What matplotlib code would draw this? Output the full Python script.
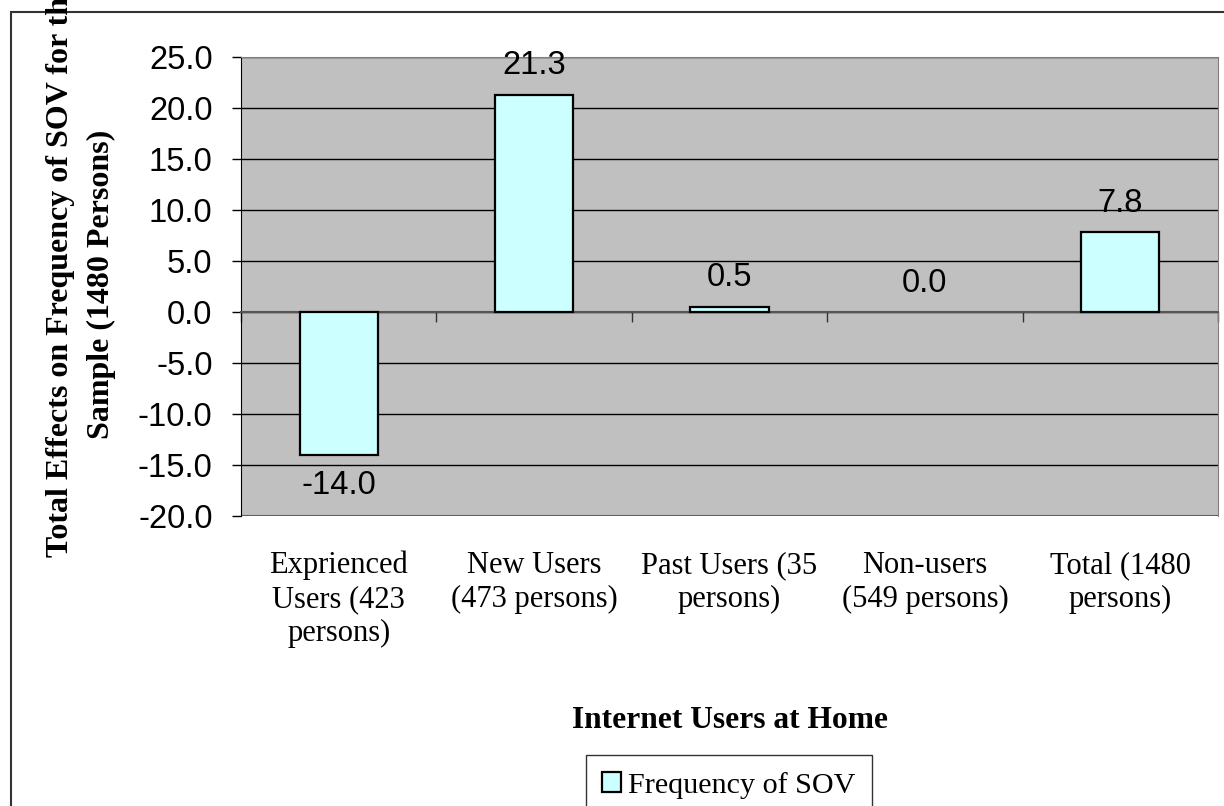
import numpy as np
from matplotlib import pyplot as plt
from matplotlib.patches import Rectangle
import matplotlib.transforms as mtransforms

categories = ["Exprienced\nUsers (423\npersons)",
              "New Users\n(473 persons)",
              "Past Users (35\npersons)",
              "Non-users\n(549 persons)",
              "Total (1480\npersons)"]
sov_effect = [-14.0, 21.3, 0.5, 0.0, 7.8]
yticks = [-20, -15, -10, -5, 0, 5, 10, 15, 20, 25]

SERIF = "Liberation Serif"
SANS = "Liberation Sans"

fig = plt.figure(figsize=(12.24, 8.06), dpi=100)
ax = fig.add_axes([241/1224, 1-516/806, 977/1224, 459/806])

x = np.arange(len(categories))
ax.set_xlim(-0.5, len(categories) - 0.5)
ax.set_ylim(-20, 25)

# plot area
ax.set_facecolor("#C0C0C0")
ax.yaxis.grid(True, color="black", lw=1.0)
ax.set_axisbelow(True)

bars = ax.bar(x, sov_effect, width=0.4, color="#CCFFFF", edgecolor="black",
              lw=1.6, label="Frequency of SOV", zorder=3)
for b, v in zip(bars, sov_effect):
    if v == 0:
        b.set_linewidth(0)

for xi, v in zip(x, sov_effect):
    off = -31 if v < 0 else 29
    ax.annotate("%.1f" % v, (xi, v), xytext=(0, off * 0.72), textcoords="offset points",
                ha="center", va="center", fontsize=23.5, family=SANS, zorder=4)

# category axis crosses at zero, ticks between categories
for s in ["top", "right"]:
    ax.spines[s].set_color("#808080")
ax.spines["left"].set_color("black")
ax.spines["bottom"].set_position(("data", 0))
ax.spines["bottom"].set_color("#555555")
ax.spines["bottom"].set_linewidth(1.5)
ax.axhline(-20, color="#606060", lw=1.5, zorder=1)
ax.set_xticks(np.arange(len(categories) + 1) - 0.5)
ax.set_xticklabels([])
ax.tick_params(axis="x", direction="out", length=7, width=1, color="#333333")

ax.set_yticks(yticks)
ax.set_yticklabels(["%.1f" % t for t in yticks], family=SANS, fontsize=23.5)
ax.tick_params(axis="y", direction="out", length=6.5, width=1, pad=14)

trans = mtransforms.blended_transform_factory(ax.transData, ax.transAxes)
for xi, lab in zip(x, categories):
    ax.text(xi, -0.076, lab, transform=trans, ha="center", va="top",
            family=SERIF, fontsize=22, linespacing=1.22)

ax.text(0.5, -0.445, "Internet Users at Home", transform=ax.transAxes,
        ha="center", va="center", family=SERIF, fontsize=22.7, fontweight="bold")

# y label lines centred on the plot area
fig.text(61/1224, 1-270/806, "Total Effects on Frequency of SOV for the",
         rotation=90, ha="center", va="center", family=SERIF, fontsize=23,
         fontweight="bold")
fig.text(101/1224, 1-284/806, "Sample (1480 Persons)",
         rotation=90, ha="center", va="center", family=SERIF, fontsize=23,
         fontweight="bold")

leg = fig.legend(handles=[bars], loc="upper center",
                 bbox_to_anchor=(729/1224, 1-755/806), frameon=True,
                 fancybox=False, prop={"family": SERIF, "size": 21.7},
                 handlelength=0.62, handleheight=0.62, handletextpad=0.25,
                 borderpad=0.55, borderaxespad=0)
leg.get_frame().set_edgecolor("black")
leg.get_frame().set_linewidth(1.0)

# chart border
fig.patches.append(Rectangle((11/1224, -0.1), 2, 1-12/806 + 0.1,
                             transform=fig.transFigure, fill=False,
                             edgecolor="#333333", lw=1.5))

fig.savefig("out.png", dpi=100)
